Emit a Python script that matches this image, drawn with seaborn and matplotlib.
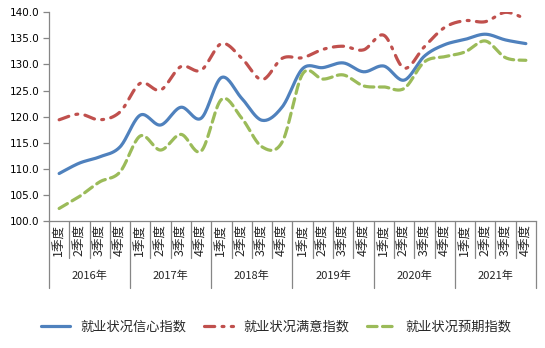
import numpy as np
import pandas as pd
import matplotlib
matplotlib.use("Agg")
import matplotlib.pyplot as plt
import matplotlib.transforms as mtransforms
from matplotlib.lines import Line2D
import seaborn as sns

years = ["2016年", "2017年", "2018年", "2019年", "2020年", "2021年"]
quarters = ["1季度", "2季度", "3季度", "4季度"]

confidence = [109.1, 111.1, 112.3, 114.2, 120.3, 118.4, 121.8, 119.7, 127.5, 123.5, 119.3, 121.9,
              129.2, 129.4, 130.3, 128.6, 129.7, 127.0, 131.6, 133.8, 134.8, 135.8, 134.7, 134.0]
satisfaction = [119.4, 120.5, 119.4, 120.9, 126.4, 125.1, 129.6, 128.9, 134.0, 131.2, 127.1, 131.2,
                131.3, 132.9, 133.5, 132.8, 135.6, 129.3, 133.4, 137.1, 138.4, 138.2, 140.0, 138.7]
expectation = [102.4, 104.7, 107.5, 109.4, 116.3, 113.6, 116.6, 113.4, 123.3, 119.7, 114.2, 115.2,
               128.2, 127.2, 128.0, 125.9, 125.7, 125.4, 130.5, 131.5, 132.4, 134.5, 131.3, 130.8]

series_names = ["就业状况信心指数", "就业状况满意指数", "就业状况预期指数"]
series_vals = [confidence, satisfaction, expectation]
colors = ["#4F81BD", "#C0504D", "#9BBB59"]


def smooth(y, n=20):
    # Excel-like smoothed line: cubic Bezier with Catmull-Rom control points
    y = np.asarray(y, float)
    x = np.arange(len(y), dtype=float)
    pts = np.column_stack([x, y])
    out = []
    for i in range(len(pts) - 1):
        p0 = pts[i - 1] if i > 0 else pts[i]
        p1 = pts[i]
        p2 = pts[i + 1]
        p3 = pts[i + 2] if i + 2 < len(pts) else pts[i + 1]
        c1 = p1 + (p2 - p0) / 6.0
        c2 = p2 - (p3 - p1) / 6.0
        t = np.linspace(0, 1, n, endpoint=(i == len(pts) - 2))[:, None]
        b = (1 - t) ** 3 * p1 + 3 * (1 - t) ** 2 * t * c1 + 3 * (1 - t) * t ** 2 * c2 + t ** 3 * p2
        out.append(b)
    out = np.vstack(out)
    return out[:, 0], out[:, 1]


sns.set_style("white")
plt.rcParams["font.family"] = ["DejaVu Sans", "Noto Sans CJK SC"]
cjk = ["Noto Sans CJK SC", "DejaVu Sans"]

fig = plt.figure(figsize=(5.45, 3.48), dpi=100)
W, H = 545, 348
ax_left, ax_right, ax_top, ax_bot = 49, 536, 12.3, 221
ax = fig.add_axes([ax_left / W, 1 - ax_bot / H, (ax_right - ax_left) / W, (ax_bot - ax_top) / H])

frames = []
for name, vals in zip(series_names, series_vals):
    sx, sy = smooth(vals)
    frames.append(pd.DataFrame({"x": sx, "y": sy, "series": name}))
df = pd.concat(frames, ignore_index=True)

dash_styles = {series_names[0]: "", series_names[1]: (3.2, 2.3, 0.6, 2.3), series_names[2]: (3.0, 1.7)}
sns.lineplot(data=df, x="x", y="y", hue="series", style="series", sort=False,
             palette=dict(zip(series_names, colors)), dashes=dash_styles,
             linewidth=2.3, ax=ax, legend=False, estimator=None)
for ln in ax.get_lines():
    ln.set_dash_capstyle("round")
    ln.set_solid_capstyle("round")

n = len(confidence)
ax.set_xlim(-0.5, n - 0.5)
ax.set_ylim(100, 140)
ax.set_yticks(np.arange(100, 141, 5))
ax.set_yticklabels([f"{v:.1f}" for v in np.arange(100, 141, 5)], fontsize=7.5, color="#000000")
ax.set_xticks([])
ax.set_xlabel("")
ax.set_ylabel("")
for s in ["top", "right"]:
    ax.spines[s].set_visible(False)
for s in ["left", "bottom"]:
    ax.spines[s].set_color("#868686")
    ax.spines[s].set_linewidth(0.9)
ax.tick_params(axis="y", direction="out", length=4, width=0.9, color="#868686", pad=3, left=True)

# category axis: quarter ticks, year separators, labels
trans = mtransforms.blended_transform_factory(ax.transData, ax.transAxes)
axh = ax_bot - ax_top
q_depth = -(258 - ax_bot) / axh
y_depth = -(288 - ax_bot) / axh
for b in range(n + 1):
    depth = y_depth if b % 4 == 0 else q_depth
    ax.plot([b - 0.5, b - 0.5], [0, depth], transform=trans, color="#868686", lw=0.9, clip_on=False)

clip_box = mtransforms.Bbox.from_extents(0, H - 257, W, H - ax_bot)
for i in range(n):
    t = ax.text(i, -3.0 / axh, quarters[i % 4], transform=trans, rotation=90, ha="center", va="top",
                fontsize=9, family=cjk, clip_on=False)
    t.set_clip_box(mtransforms.TransformedBbox(clip_box, mtransforms.Affine2D()))
    t.set_clip_on(True)
for k, yr in enumerate(years):
    ax.text(4 * k + 1.5, -(276 - ax_bot) / axh, yr, transform=trans, ha="center", va="center",
            fontsize=8, family=cjk)

handles = [Line2D([], [], color=c, lw=2.3, linestyle=("-" if i == 0 else (0, dash_styles[series_names[i]])),
                  dash_capstyle="round") for i, c in enumerate(colors)]
fig.legend(handles, series_names, loc="center", bbox_to_anchor=(276.5 / W, 1 - 327 / H), ncol=3, frameon=False,
           prop={"family": cjk, "size": 9.5}, handlelength=2.2, columnspacing=1.35, handletextpad=0.75)

fig.savefig("out.png", dpi=100)
